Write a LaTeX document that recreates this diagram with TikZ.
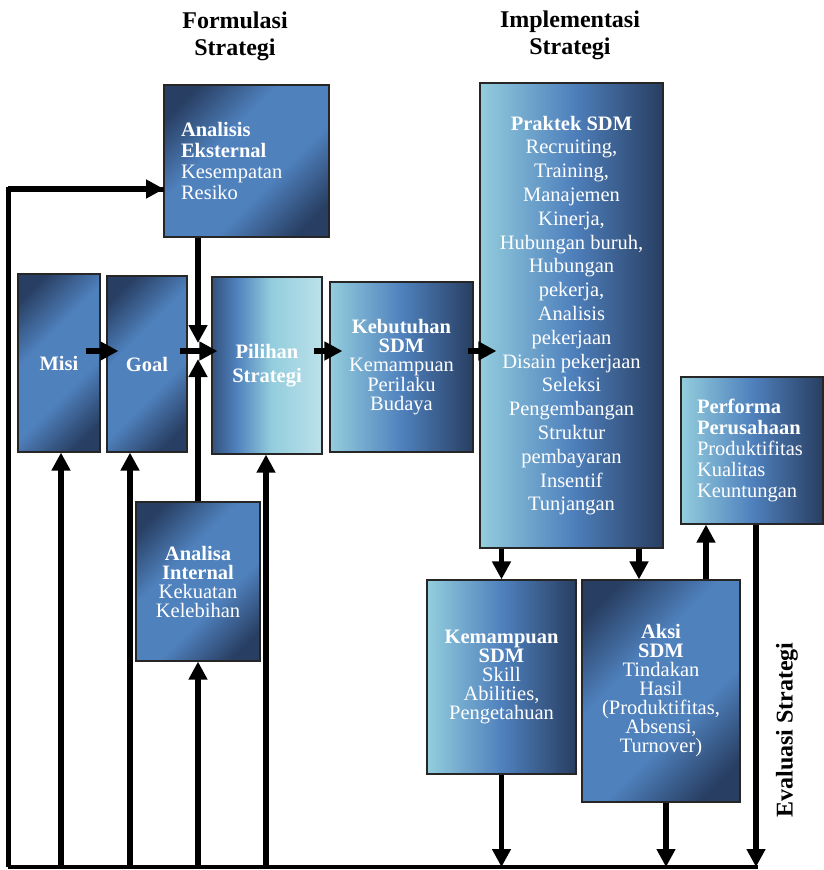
\documentclass[tikz,border=0pt]{standalone}
\usepackage{fontspec}
\setmainfont{Liberation Serif}
\usetikzlibrary{arrows.meta}
\definecolor{dk}{RGB}{40,62,98}
\definecolor{md}{RGB}{79,129,189}
\definecolor{lt}{RGB}{147,205,221}
\definecolor{lt2}{RGB}{188,225,234}
\pgfdeclareverticalshading{diagsh}{100bp}{color(0bp)=(dk); color(22bp)=(dk); color(40bp)=(md); color(60bp)=(md); color(78bp)=(dk); color(100bp)=(dk)}
\pgfdeclarehorizontalshading{lmdsh}{100bp}{color(0bp)=(lt); color(25bp)=(lt); color(50bp)=(md); color(75bp)=(dk); color(100bp)=(dk)}
\pgfdeclarehorizontalshading{pilsh}{100bp}{color(0bp)=(dk); color(25bp)=(dk!70!md); color(36bp)=(md); color(52bp)=(lt); color(75bp)=(lt2); color(100bp)=(lt2)}
\tikzset{
  box/.style={draw=black!85, line width=1.2pt, inner sep=0pt, text=white, align=center,
    font=\fontsize{20.5}{23.8}\selectfont},
  diagbox/.style={box, shading=diagsh, shading angle=45},
  lmdbox/.style={box, shading=lmdsh},
  pilbox/.style={box, shading=pilsh},
  arr/.style={line width=5.5pt, -{Triangle[length=18pt,width=18pt]}},
  ln/.style={line width=5pt, line join=miter},
  title/.style={align=center, font=\fontsize{24}{27}\selectfont\bfseries},
  lead/.style={font=\fontsize{20.5}{#1}\selectfont}
}
\begin{document}
\begin{tikzpicture}[x=1pt,y=-1pt]
\useasboundingbox (0,0) rectangle (824,870);
% titles
\node[title] (t1) at (235,36) {Formulasi\\Strategi};
\node[title] (t2) at (570,35) {Implementasi\\Strategi};
% boxes
\node[diagbox, lead=21.3, minimum width=165, minimum height=152, text width=131, align=left] (ext) at (246.5,161)
  {\textbf{Analisis}\\\textbf{Eksternal}\\Kesempatan\\Resiko};
\node[diagbox, minimum width=82, minimum height=178] (misi) at (59,363) {\textbf{Misi}};
\node[diagbox, minimum width=80, minimum height=176] (goal) at (147,364) {\textbf{Goal}};
\node[pilbox, minimum width=110, minimum height=177] (pil) at (267,365.5) {\textbf{Pilihan}\\\textbf{Strategi}};
\node[lmdbox, lead=19.4, minimum width=143, minimum height=170] (keb) at (401.5,367)
  {\textbf{Kebutuhan}\\\textbf{SDM}\\Kemampuan\\Perilaku\\Budaya};
\node[lmdbox, minimum width=183, minimum height=465] (prak) at (571.5,315.5)
  {\textbf{Praktek SDM}\\Recruiting,\\Training,\\Manajemen\\Kinerja,\\Hubungan buruh,\\Hubungan\\pekerja,\\Analisis\\pekerjaan\\Disain pekerjaan\\Seleksi\\Pengembangan\\Struktur\\pembayaran\\Insentif\\Tunjangan};
\node[lmdbox, lead=21.2, minimum width=142, minimum height=147, text width=110, align=left] (perf) at (752,450.5)
  {\textbf{Performa}\\\textbf{Perusahaan}\\Produktifitas\\Kualitas\\Keuntungan};
\node[diagbox, lead=19, minimum width=124, minimum height=159] (inter) at (198,581.5)
  {\textbf{Analisa}\\\textbf{Internal}\\Kekuatan\\Kelebihan};
\node[lmdbox, lead=19, minimum width=149, minimum height=194] (kem) at (501.5,677)
  {\textbf{Kemampuan}\\\textbf{SDM}\\Skill\\Abilities,\\Pengetahuan};
\node[diagbox, lead=19, minimum width=158, minimum height=222] (aksi) at (661,691)
  {\textbf{Aksi}\\\textbf{SDM}\\Tindakan\\Hasil\\(Produktifitas,\\Absensi,\\Turnover)};
\node[font=\fontsize{24}{27}\selectfont\bfseries, rotate=90] (eval) at (787,730) {Evaluasi Strategi};
% helper coordinates
\coordinate (bl) at (8,867);
\coordinate (br) at (758,867);
\coordinate (extin) at (164,189);
\coordinate (xMisi) at (61,0);
\coordinate (xGoal) at (130,0);
\coordinate (xV) at (198,0);
\coordinate (xPil) at (266,0);
\coordinate (yTipD) at (0,343);
\coordinate (yTipU) at (0,359);
\coordinate (rowy) at (0,351);
\coordinate (xA) at (639,0);
\coordinate (xP) at (706,0);
\coordinate (xE) at (756,0);
\coordinate (xD) at (666,0);
% bottom line and left loop
\draw[line width=3.5pt] (bl) -- (br);
\draw[ln] (bl) -- (bl |- extin) -- (extin);
\draw[arr] (bl |- extin) -- (extin);
% up arrows from bottom
\draw[arr] (xMisi |- bl) -- (xMisi |- misi.south);
\draw[arr] (xGoal |- bl) -- (xGoal |- goal.south);
\draw[arr] (inter.south |- bl) -- (inter.south);
\draw[arr] (xPil |- bl) -- (xPil |- pil.south);
% vertical arrows into the row
\draw[arr] (xV |- ext.south) -- (xV |- yTipD);
\draw[arr] (inter.north) -- (xV |- yTipU);
% row arrows
\draw[arr, shorten <=-15pt, shorten >=-12pt] (misi.east |- rowy) -- (goal.west |- rowy);
\draw[arr, shorten <=-8pt, shorten >=-6pt] (goal.east |- rowy) -- (pil.west |- rowy);
\draw[arr, shorten <=-9pt, shorten >=-13pt] (pil.east |- rowy) -- (keb.west |- rowy);
\draw[arr, shorten <=-6pt, shorten >=-17pt] (keb.east |- rowy) -- (prak.west |- rowy);
% right side
\draw[arr] (kem.north |- prak.south) -- (kem.north);
\draw[arr] (xA |- prak.south) -- (xA |- aksi.north);
\draw[arr] (xP |- aksi.north) -- (xP |- perf.south);
\draw[arr] (xE |- perf.south) -- (xE |- bl);
\draw[arr] (kem.south) -- (kem.south |- bl);
\draw[arr] (xD |- aksi.south) -- (xD |- bl);
\end{tikzpicture}
\end{document}
